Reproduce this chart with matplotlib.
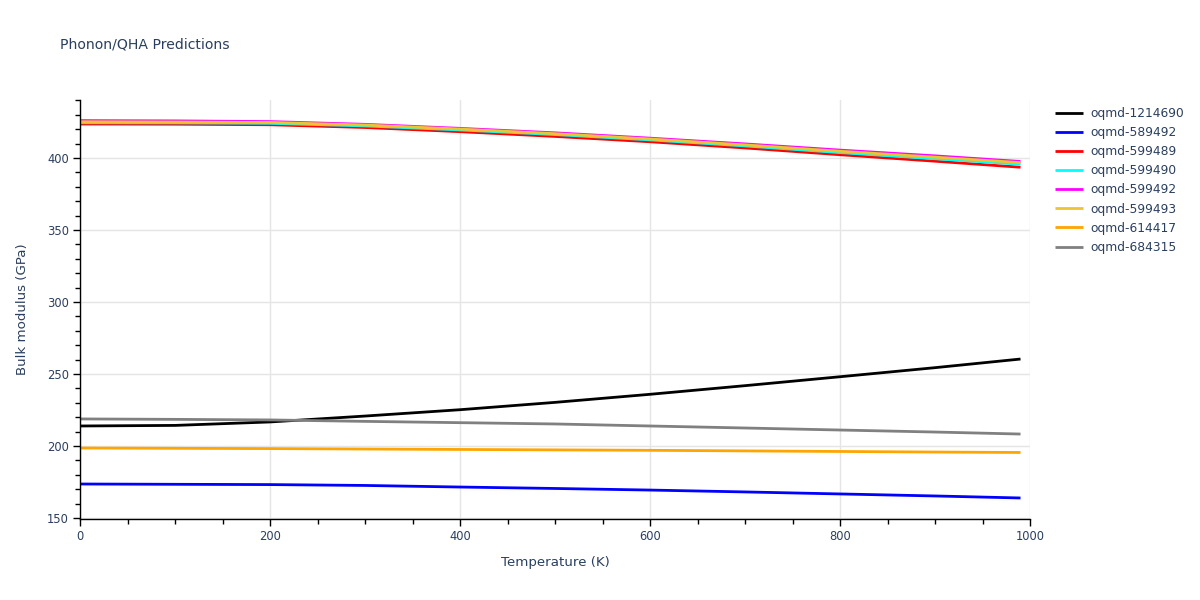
import matplotlib
matplotlib.use("Agg")
import matplotlib.pyplot as plt
from matplotlib.ticker import MultipleLocator

plt.rcParams['font.family'] = ['DejaVu Sans']

temps = [0, 100, 200, 300, 400, 500, 600, 700, 800, 900, 990]

names = ["oqmd-1214690", "oqmd-589492", "oqmd-599489", "oqmd-599490",
         "oqmd-599492", "oqmd-599493", "oqmd-614417", "oqmd-684315"]
colors = ["black", "blue", "red", "cyan", "magenta", "#f0c330", "orange", "gray"]

b_1214690 = [213.9, 214.3, 216.7, 220.8, 225.2, 230.3, 235.9, 241.9, 248.1, 254.4, 260.4]
b_589492 = [173.6, 173.4, 173.2, 172.6, 171.5, 170.5, 169.4, 168.1, 166.7, 165.3, 163.9]
b_599489 = [423.6, 423.5, 423.1, 421.2, 418.3, 415.0, 411.3, 407.0, 402.3, 397.8, 393.6]
b_599490 = [424.5, 424.4, 424.1, 422.3, 419.5, 416.3, 412.6, 408.4, 403.8, 399.5, 395.7]
b_599492 = [426.0, 425.8, 425.3, 423.4, 420.6, 417.5, 413.8, 409.8, 405.5, 401.5, 397.6]
b_599493 = [425.2, 425.0, 424.7, 422.9, 420.1, 416.9, 413.2, 409.1, 404.7, 400.6, 396.8]
b_614417 = [198.6, 198.4, 198.2, 197.9, 197.6, 197.3, 197.0, 196.6, 196.2, 195.8, 195.5]
b_684315 = [218.8, 218.5, 218.1, 217.1, 216.2, 215.3, 213.9, 212.5, 211.1, 209.7, 208.3]

series = [b_1214690, b_589492, b_599489, b_599490, b_599492, b_599493, b_614417, b_684315]

text_color = "#2a3f5f"
tick_color = "#2a3f5f"

fig = plt.figure(figsize=(12, 6), dpi=100)
ax = fig.add_axes([80/1200, 81/600, 950/1200, 419/600])

for name, col, vals in zip(names, colors, series):
    ax.plot(temps, vals, color=col, lw=2, label=name, solid_capstyle='butt')

ax.set_xlim(0, 1000)
ax.set_ylim(149.3, 440.3)
ax.xaxis.set_major_locator(MultipleLocator(200))
ax.xaxis.set_minor_locator(MultipleLocator(50))
ax.yaxis.set_major_locator(MultipleLocator(50))
ax.yaxis.set_minor_locator(MultipleLocator(10))
ax.grid(True, which='major', color='#e5e5e5', lw=1)
ax.set_axisbelow(True)

for s in ['top', 'right']:
    ax.spines[s].set_visible(False)
for s in ['left', 'bottom']:
    ax.spines[s].set_color('black')
    ax.spines[s].set_linewidth(1)

ax.tick_params(which='major', direction='out', length=5, color='black', width=1,
               labelsize=8.3, labelcolor=tick_color, pad=3)
ax.tick_params(which='minor', direction='out', length=3.5, color='black', width=1)

ax.set_xlabel("Temperature (K)", fontsize=9.6, color=text_color, labelpad=9)
ax.set_ylabel("Bulk modulus (GPa)", fontsize=9.6, color=text_color, labelpad=13)

fig.text(60/1200, 1 - 45/600, "Phonon/QHA Predictions", fontsize=10.1,
         color=text_color, va='center', ha='left')

leg = fig.legend(loc='upper left', bbox_to_anchor=(1055/1200, 1 - 107/600),
                 frameon=False, fontsize=8.8, handlelength=2.3, handletextpad=0.57,
                 labelspacing=0.5, borderaxespad=0, borderpad=0)
for t in leg.get_texts():
    t.set_color(text_color)

fig.savefig("out.png", dpi=100)
